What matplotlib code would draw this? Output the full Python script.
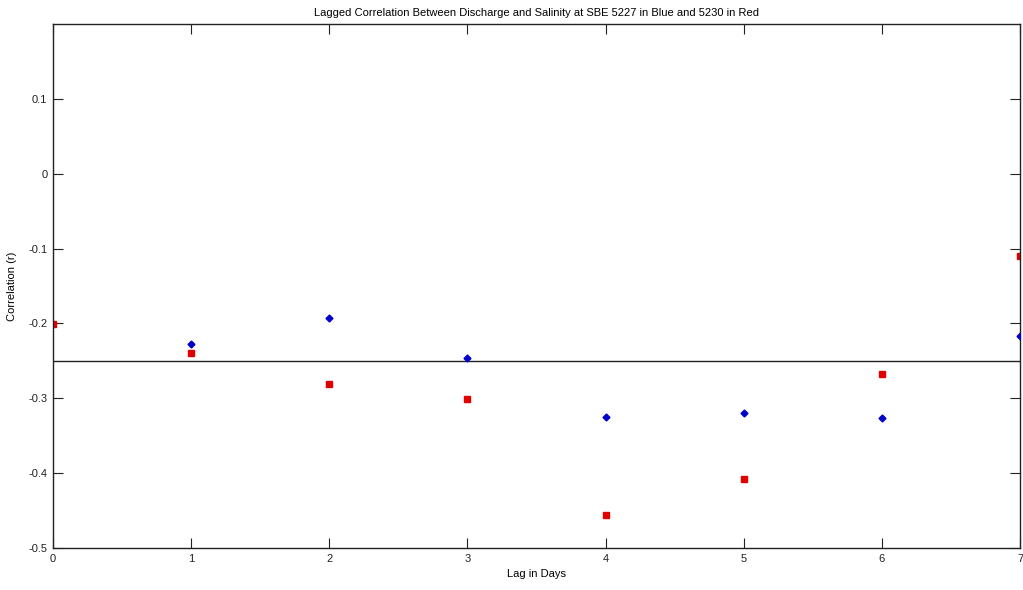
import matplotlib
matplotlib.use("Agg")
import matplotlib.pyplot as plt

blue_lag = [1, 2, 3, 4, 5, 6, 7]
blue_r = [-0.228, -0.193, -0.246, -0.325, -0.319, -0.327, -0.217]
red_lag = [0, 1, 2, 3, 4, 5, 6, 7]
red_r = [-0.201, -0.240, -0.281, -0.301, -0.456, -0.408, -0.268, -0.110]
threshold = -0.25
xticks = [0, 1, 2, 3, 4, 5, 6, 7]
yticks = [-0.5, -0.4, -0.3, -0.2, -0.1, 0, 0.1]

plt.rcParams['font.family'] = ['Liberation Sans', 'DejaVu Sans']
fig = plt.figure(figsize=(10.23, 5.9), dpi=100)
ax = fig.add_axes([53/1023, 42/590, 967/1023, 524/590])

ax.axhline(threshold, color='#222222', lw=1.0, zorder=1)
ax.plot(blue_lag, blue_r, linestyle='none', marker='D', ms=3.5, color='#0000cc', zorder=3)
ax.plot(red_lag, red_r, linestyle='none', marker='s', ms=5, color='#e00000', zorder=2)

ax.set_xlim(0, 7)
ax.set_ylim(-0.5, 0.2)
ax.set_xticks(xticks)
ax.set_xticklabels([str(v) for v in xticks])
ax.set_yticks(yticks)
ax.set_yticklabels(['-0.5', '-0.4', '-0.3', '-0.2', '-0.1', '0', '0.1'])
ax.tick_params(direction='in', length=7, top=True, right=True, labelsize=8, colors='#222222', pad=4)
for s in ax.spines.values():
    s.set_color('#222222')
    s.set_linewidth(1.0)

ax.set_title('Lagged Correlation Between Discharge and Salinity at SBE 5227 in Blue and 5230 in Red',
             fontsize=8, pad=6)
ax.set_xlabel('Lag in Days', fontsize=8, labelpad=4)
ax.set_ylabel('Correlation (r)', fontsize=8, labelpad=8)

fig.savefig('out.png', dpi=100, facecolor='white')
